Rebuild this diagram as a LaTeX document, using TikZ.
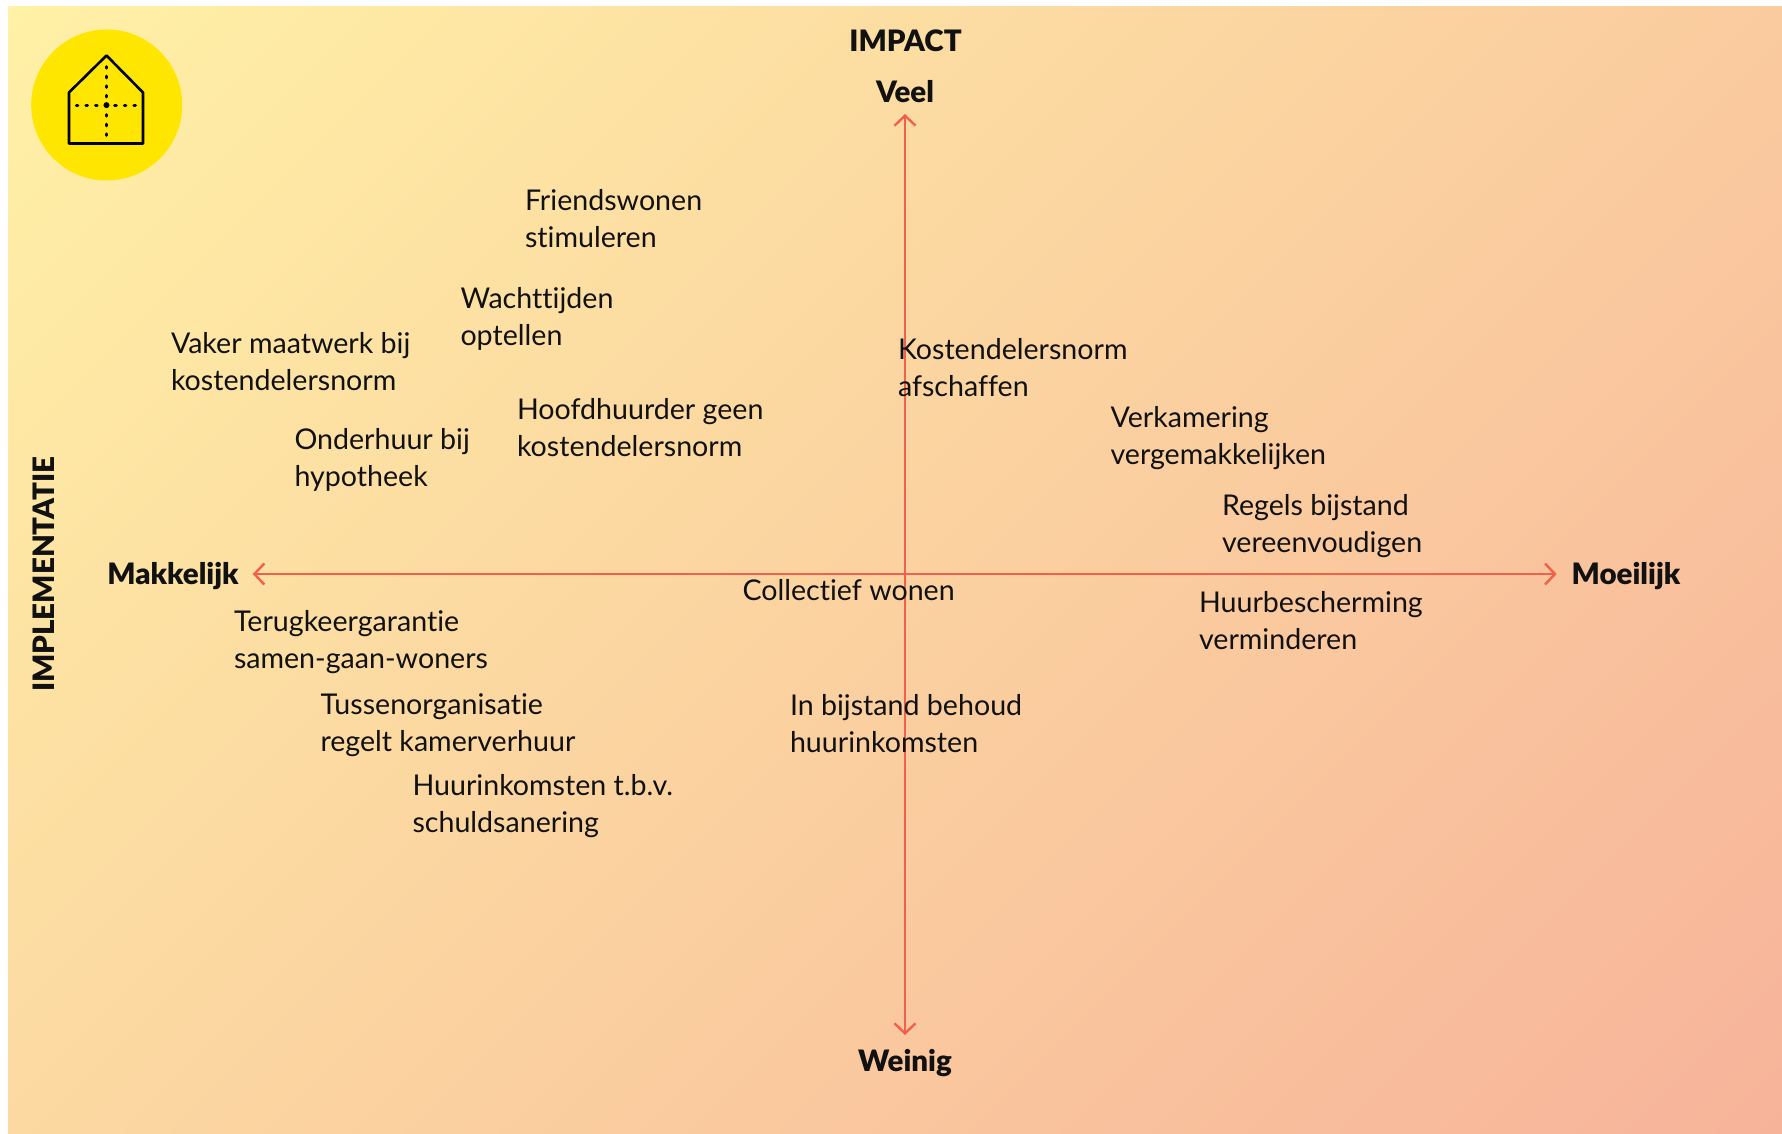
\documentclass[tikz,border=0pt]{standalone}
\usepackage{fontspec}
\setmainfont[Ligatures=NoCommon]{Lato}
\newfontfamily\headfont{Lato Black}
\usetikzlibrary{arrows.meta}
\definecolor{axiscol}{HTML}{F0604A}
\definecolor{inkcol}{HTML}{111111}
\definecolor{bgA}{HTML}{FFF1A6}
\definecolor{bgB}{HTML}{FDD6A0}
\definecolor{bgC}{HTML}{F7B39A}
\definecolor{badge}{HTML}{FFE600}
\tikzset{
  item/.style={anchor=north west,inner sep=0pt,outer sep=0pt,align=left,text=inkcol,
    font=\fontsize{28.6}{37}\selectfont},
  head/.style={inner sep=0pt,outer sep=0pt,text=inkcol,font=\fontsize{29.5}{34}\headfont\selectfont,
    text height=24pt,text depth=3pt},
  axisline/.style={draw=axiscol,line width=2.4pt,{Straight Barb[length=10pt,width=21pt]}-{Straight Barb[length=10pt,width=21pt]}},
  houseline/.style={draw=black,line width=2.6pt,line join=round},
  housedots/.style={draw=black,line width=3pt,line cap=round,dash pattern=on 1.6pt off 8pt},
}
\begin{document}
\begin{tikzpicture}[x=1pt,y=-1pt]
\useasboundingbox (0,0) rectangle (1782,1134);
\fill[white] (0,0) rectangle (1782,1134);
\begin{scope}
\clip (8,7) rectangle (1782,1134);
\begin{scope}[transform canvas={shift={(895,570.5)},rotate=-45}]
\shade[left color=bgA,middle color=bgB,right color=bgC] (-1025.5,-2000) rectangle (1025.5,2000);
\end{scope}
\end{scope}
% badge
\fill[badge] (106.7,105) circle (75.5);
\draw[houseline] (69,143.5) -- (69,92.5) -- (106.5,55.5) -- (143,92.5) -- (143,143.5) -- cycle;
\draw[housedots] (106.5,66.6) -- (106.5,137);
\draw[housedots] (76.3,105.1) -- (139,105.1);
\fill[black] (106.5,105.1) circle (3);
% axis labels
\node[head] at (905.5,41) {IMPACT};
\node[head] (veel) at (905,92) {Veel};
\node[head] (weinig) at (905,1061) {Weinig};
\node[head] (makkelijk) at (173,574) {Makkelijk};
\node[head] (moeilijk) at (1626,574) {Moeilijk};
\node[head,rotate=90] at (44,574) {IMPLEMENTATIE};
\draw[axisline,shorten <=14pt,shorten >=15pt] (makkelijk.east) -- (moeilijk.west);
\draw[axisline,shorten <=8.5pt,shorten >=12.5pt] (veel.south) -- (weinig.north);
% items
\node[item] (a) at (525,189) {Friendswonen\\stimuleren};
\node[item] (b) at (460.5,287) {Wachttijden\\optellen};
\node[item] (c) at (171,332) {Vaker maatwerk bij\\kostendelersnorm};
\node[item] (d) at (294.5,428) {Onderhuur bij\\hypotheek};
\node[item] (e) at (517,398) {Hoofdhuurder geen\\kostendelersnorm};
\node[item] (f) at (898,338) {Kostendelersnorm\\afschaffen};
\node[item] (g) at (1110.5,406) {Verkamering\\vergemakkelijken};
\node[item] (h) at (1222,494) {Regels bijstand\\vereenvoudigen};
\node[item] (i) at (1199,591) {Huurbescherming\\verminderen};
\node[item] (j) at (742.5,579) {Collectief wonen};
\node[item] (k) at (234,610) {Terugkeergarantie\\samen-gaan-woners};
\node[item] (l) at (320.5,694) {Tussenorganisatie\\regelt kamerverhuur};
\node[item] (m) at (790,694) {In bijstand behoud\\huurinkomsten};
\node[item] (n) at (412.5,774) {Huurinkomsten t.b.v.\\schuldsanering};
\end{tikzpicture}
\end{document}
